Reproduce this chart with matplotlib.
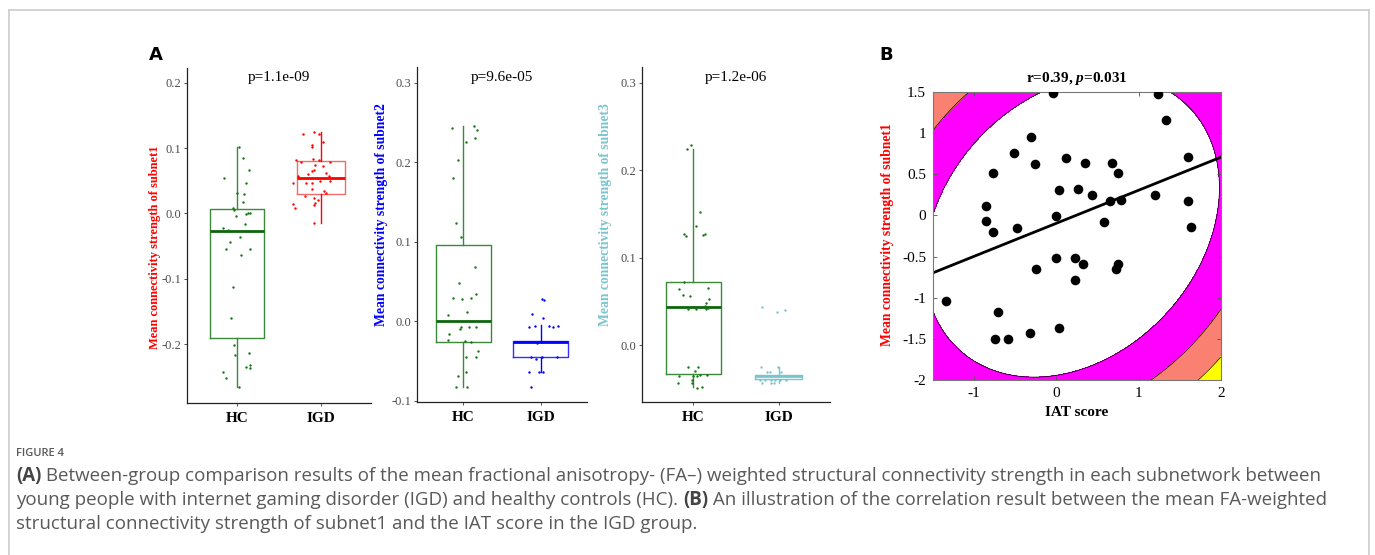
import numpy as np
import matplotlib
matplotlib.use("Agg")
import matplotlib.pyplot as plt
from matplotlib.lines import Line2D

# ---------------- data ----------------
groups = ["HC", "IGD"]

# subnet1 (jitter offset, value)
s1_hc_off = [0.027, 0.070, 0.144, -0.163, 0.105, -0.008, 0.082, 0.070, -0.051, -0.043, -0.016, 0.148, 0.109,
             0.132, -0.175, -0.113, 0.093, -0.082, 0.039, -0.132, 0.152, 0.047, -0.051, -0.078, -0.035, -0.027,
             0.136, -0.175, -0.128, 0.109, 0.152, 0.152, 0.019]
s1_hc_val = [0.101, 0.085, 0.067, 0.054, 0.047, 0.031, 0.030, 0.017, 0.009, 0.005, -0.004, 0.0005, -0.0015,
             0.000, -0.022, -0.025, -0.016, -0.044, -0.036, -0.055, -0.055, -0.064, -0.112, -0.160, -0.202, -0.216,
             -0.213, -0.243, -0.252, -0.235, -0.232, -0.237, -0.266]
s1_igd_off = [-0.210, -0.086, -0.023, 0.023, -0.109, -0.101, -0.089, -0.300, -0.019, -0.237, 0.105, -0.070, 0.031,
              -0.078, -0.101, -0.148, 0.058, -0.268, 0.093, -0.331, -0.183, -0.101, -0.008, 0.109, -0.101, 0.043,
              0.062, -0.191, -0.086, -0.035, -0.331, -0.082, -0.066, -0.304, -0.086]
s1_igd_val = [0.121, 0.124, 0.122, 0.109, 0.104, 0.102, 0.083, 0.082, 0.082, 0.078, 0.078, 0.074, 0.073,
              0.067, 0.065, 0.061, 0.062, 0.057, 0.057, 0.046, 0.047, 0.047, 0.049, 0.050, 0.037, 0.034,
              0.032, 0.026, 0.024, 0.020, 0.014, 0.013, 0.016, 0.008, -0.014]

# subnet2
s2_hc_off = [-0.143, 0.139, 0.177, 0.147, 0.030, -0.065, -0.134, -0.095, -0.026, 0.156, -0.061, -0.134, -0.013,
             0.104, 0.169, 0.048, -0.199, -0.190, -0.048, -0.026, 0.074, 0.169, -0.199, 0.017, 0.100, 0.186,
             0.169, 0.039, 0.030, -0.074, -0.095, 0.052]
s2_hc_val = [0.2426, 0.246, 0.240, 0.231, 0.226, 0.203, 0.180, 0.124, 0.106, 0.0686, 0.048, 0.030, 0.028,
             0.029, 0.035, 0.012, 0.0075, -0.0155, -0.010, -0.007, -0.0067, -0.0067, -0.024, -0.025, -0.026, -0.037,
             -0.045, -0.0447, -0.0635, -0.0686, -0.083, -0.083]
s2_igd_off = [0.022, 0.039, -0.113, 0.030, -0.147, -0.078, 0.108, 0.165, 0.229, -0.048, 0.013, -0.130, -0.065,
              0.022, 0.208, -0.147, -0.026, 0.026, -0.121]
s2_igd_val = [0.0284, 0.0268, 0.0092, 0.0042, -0.0067, -0.0054, -0.0063, -0.0067, -0.0054, -0.0268, -0.026,
              -0.045, -0.047, -0.045, -0.045, -0.063, -0.064, -0.064, -0.083]

# subnet3
s3_hc_off = [-0.072, -0.023, 0.076, 0.034, -0.114, -0.080, 0.118, 0.141, -0.114, -0.163, 0.167, -0.122, -0.042,
             0.179, 0.152, 0.137, -0.061, 0.027, 0.148, 0.171, -0.061, 0.057, 0.023, -0.167, -0.008, 0.046,
             0.084, 0.163, -0.015, -0.175, -0.011, 0.049, 0.106]
s3_hc_val = [0.2237, 0.2287, 0.1527, 0.1363, 0.1272, 0.1249, 0.1256, 0.1272, 0.0726, 0.0638, 0.0649, 0.0573,
             0.0558, 0.0527, 0.0481, 0.0443, 0.0416, 0.0413, 0.0416, 0.0428, -0.0256, -0.0256, -0.0294, -0.0351,
             -0.0351, -0.0351, -0.0344, -0.0348, -0.0401, -0.0439, -0.0439, -0.0489, -0.0485]
s3_igd_off = [-0.194, -0.023, 0.072, -0.205, -0.137, -0.099, -0.004, 0.027, -0.221, -0.163, -0.087, -0.038,
              0.015, 0.084, -0.194, -0.087, -0.057]
s3_igd_val = [0.0435, 0.0378, 0.0397, -0.0256, -0.0309, -0.031, -0.0256, -0.031, -0.0401, -0.0401, -0.0401,
              -0.0401, -0.0401, -0.0401, -0.0439, -0.0439, -0.0439]

# box statistics: [whislo, q1, med, q3, whishi]
s1_hc_box = [-0.266, -0.191, -0.0265, 0.0071, 0.101]
s1_igd_box = [-0.014, 0.0295, 0.054, 0.080, 0.124]
s2_hc_box = [-0.083, -0.026, 0.0004, 0.0966, 0.2458]
s2_igd_box = [-0.064, -0.0447, -0.0265, -0.025, -0.005]
s3_hc_box = [-0.0485, -0.0332, 0.0439, 0.0718, 0.2242]
s3_igd_box = [-0.0439, -0.0393, -0.0355, -0.034, -0.0256]

p_labels = ["p=1.1e-09", "p=9.6e-05", "p=1.2e-06"]
ylabels_a = ["Mean connectivity strength of subnet1", "Mean connectivity strength of subnet2",
             "Mean connectivity strength of subnet3"]
yticks_a = [[-0.2, -0.1, 0.0, 0.1, 0.2], [-0.1, 0.0, 0.1, 0.2, 0.3], [0.0, 0.1, 0.2, 0.3]]

# panel B
iat_score = [-0.04, 1.24, 1.335, -0.31, -0.514, -0.255, 0.122, 0.35, 0.678, 1.60, -0.77, 0.743, 0.033,
             0.268, 0.427, 0.65, 0.784, 1.20, 1.603, -0.85, -0.007, -0.85, -0.766, -0.482, 0.577, 1.64,
             -0.011, 0.22, 0.317, -0.247, 0.751, 0.727, 0.22, -1.346, -0.709, -0.75, -0.583, -0.316, 0.037]
subnet1_strength = [1.49, 1.48, 1.156, 0.958, 0.76, 0.63, 0.70, 0.64, 0.64, 0.71, 0.52, 0.51, 0.31,
                    0.32, 0.254, 0.18, 0.19, 0.254, 0.18, 0.112, -0.005, -0.066, -0.207, -0.147, -0.078, -0.135,
                    -0.523, -0.523, -0.596, -0.657, -0.596, -0.657, -0.786, -1.045, -1.174, -1.50, -1.50, -1.433, -1.373]
# points read on the background contour boundaries (white/magenta, magenta/salmon, salmon/yellow)
contour1_x = [-0.2, 1.38, 1.97, -0.53, -1.5, -1.5, 1.785, 1.38]
contour1_y = [1.5, 1.5, 0.51, -1.90, -0.10, -1.29, -0.462, -1.19]
contour2_x = [1.015, 2.0, -1.184, -1.5]
contour2_y = [-2.0, -0.99, 1.5, 1.144]
contour3_x = [1.725, 2.0]
contour3_y = [-2.0, -1.717]
b_xticks = [-1, 0, 1, 2]
b_yticks = [-2, -1.5, -1, -0.5, 0, 0.5, 1, 1.5]
b_yticklabels = ["-2", "-1.5", "-1", "-0.5", "0", "0.5", "1", "1.5"]

# ---------------- figure ----------------
W, H = 1375, 555
fig = plt.figure(figsize=(W / 100, H / 100), dpi=100)
SERIF = "Liberation Serif"
plt.rcParams["mathtext.fontset"] = "custom"
plt.rcParams["mathtext.it"] = "Liberation Serif:italic:bold"
plt.rcParams["mathtext.rm"] = "Liberation Serif:bold"


def ax_px(l, t, r, b):
    return fig.add_axes([l / W, 1 - b / H, (r - l) / W, (b - t) / H])


def ftext(x, y, s, **kw):
    return fig.text(x / W, 1 - y / H, s, **kw)


GREEN_DOT = "#137513"
GREEN_BOX = "#3a8a3a"
GREEN_MED = "#0d650d"

panels = [
    dict(rect=(187, 68, 371, 403), ylim=(-0.29, 0.2225), data=[(s1_hc_off, s1_hc_val), (s1_igd_off, s1_igd_val)],
         boxes=[s1_hc_box, s1_igd_box], widths=[0.65, 0.57], col="#FF0000", boxcol="#F26A6A",
         lab_x=155, lab_y=247, lab_size=9.0, ptx=277),
    dict(rect=(417, 67, 587, 402), ylim=(-0.1013, 0.3197), data=[(s2_hc_off, s2_hc_val), (s2_igd_off, s2_igd_val)],
         boxes=[s2_hc_box, s2_igd_box], widths=[0.72, 0.71], col="#0000FF", boxcol="#3030FF",
         lab_x=381, lab_y=215, lab_size=9.8, ptx=507),
    dict(rect=(642, 67, 830, 402), ylim=(-0.0652, 0.318), data=[(s3_hc_off, s3_hc_val), (s3_igd_off, s3_igd_val)],
         boxes=[s3_hc_box, s3_igd_box], widths=[0.65, 0.55], col="#7AC5CD", boxcol="#7AC5CD",
         lab_x=606, lab_y=215, lab_size=9.8, ptx=733),
]

for i, p in enumerate(panels):
    l, t, r, b = p["rect"]
    ax = ax_px(l, t, r, b)
    ax.set_xlim(0.4, 2.6)
    ax.set_ylim(*p["ylim"])
    for sp in ["top", "right"]:
        ax.spines[sp].set_visible(False)
    for sp in ["left", "bottom"]:
        ax.spines[sp].set_linewidth(0.9)
        ax.spines[sp].set_color("#222222")
    stats = []
    for bx in p["boxes"]:
        stats.append(dict(whislo=bx[0], q1=bx[1], med=bx[2], q3=bx[3], whishi=bx[4], fliers=[]))
    for k in range(2):
        ec = GREEN_BOX if k == 0 else p["boxcol"]
        mc = GREEN_MED if k == 0 else p["col"]
        wc = GREEN_BOX if k == 0 else p["col"]
        ax.bxp([stats[k]], positions=[k + 1], widths=[p["widths"][k]], showcaps=False, showfliers=False,
               boxprops=dict(color=ec, linewidth=1.0),
               whiskerprops=dict(color=wc, linewidth=1.0),
               medianprops=dict(color=mc, linewidth=2.0), manage_ticks=False, zorder=2)
    for k, (off, val) in enumerate(p["data"]):
        c = GREEN_DOT if k == 0 else p["col"]
        ax.scatter(np.array(off) + k + 1, val, s=3.0, color=c, linewidths=0, zorder=3)
    ax.set_xticks([1, 2])
    ax.set_xticklabels(groups, fontfamily=SERIF, fontweight="bold", fontsize=11, color="black")
    ax.set_yticks(yticks_a[i])
    ax.set_yticklabels([f"{v:.1f}" for v in yticks_a[i]], fontfamily=SERIF, fontsize=9, color="#4D4D4D")
    ax.tick_params(axis="both", direction="out", length=2.5, width=0.6, color="#333333")
    ax.tick_params(axis="y", pad=1.5)
    ax.tick_params(axis="x", pad=4)
    ax.text(0.5, (b - 77) / (b - t), p_labels[i], transform=ax.transAxes, ha="center", va="center",
            fontfamily=SERIF, fontsize=11, color="black")
    ftext(p["lab_x"], p["lab_y"], ylabels_a[i], rotation=90, ha="center", va="center",
          fontfamily=SERIF, fontweight="bold", fontsize=p["lab_size"], color=p["col"])

# ---------------- panel B ----------------
axb = ax_px(933, 92, 1221, 380)


def quad_terms(x, y):
    x = np.asarray(x, float)
    y = np.asarray(y, float)
    return np.stack([x * x, x * y, y * y, x, y], axis=-1)


coef, *_ = np.linalg.lstsq(quad_terms(contour1_x, contour1_y), np.ones(len(contour1_x)), rcond=None)
lev1 = 1.0
lev2 = float(np.mean(quad_terms(contour2_x, contour2_y) @ coef))
lev3 = float(np.mean(quad_terms(contour3_x, contour3_y) @ coef))

gx = np.linspace(-1.5, 2.0, 600)
gy = np.linspace(-2.0, 1.5, 600)
GX, GY = np.meshgrid(gx, gy)
Q = quad_terms(GX, GY) @ coef
qmin = min(Q.min(), 0.0) - 1
axb.contourf(GX, GY, Q, levels=[qmin, lev1, lev2, lev3, Q.max() + 1],
             colors=["white", "#FF00FF", "#FA8072", "#FFFF00"], zorder=0)
axb.contour(GX, GY, Q, levels=[lev1, lev2, lev3], colors="black", linewidths=0.5, zorder=1)
axb.scatter(iat_score, subnet1_strength, s=48, color="black", linewidths=0, zorder=3)
slope, intercept = np.polyfit(iat_score, subnet1_strength, 1)
xl = np.array([-1.5, 2.0])
axb.plot(xl, slope * xl + intercept, color="black", linewidth=2.0, zorder=2)
axb.set_xlim(-1.5, 2.0)
axb.set_ylim(-2.0, 1.5)
axb.set_xticks(b_xticks)
axb.set_xticklabels([str(v) for v in b_xticks], fontfamily=SERIF, fontsize=11)
axb.set_yticks(b_yticks)
axb.set_yticklabels(b_yticklabels, fontfamily=SERIF, fontsize=11)
axb.tick_params(direction="in", length=3, width=0.6, color="#555555", top=True, right=True, pad=5)
for sp in axb.spines.values():
    sp.set_color("#777777")
    sp.set_linewidth(0.8)
axb.set_title("r=0.39, $p$=0.031", fontfamily=SERIF, fontweight="bold", fontsize=11, pad=7)
axb.set_xlabel("IAT score", fontfamily=SERIF, fontweight="bold", fontsize=11, labelpad=4)
ftext(888, 235, "Mean connectivity strength of subnet1", rotation=90, ha="center", va="center",
      fontfamily=SERIF, fontweight="bold", fontsize=9.8, color="#FF0000")

# panel letters
ftext(156, 55, "A", fontfamily="DejaVu Sans", fontweight="bold", fontsize=13, ha="center", va="center")
ftext(886, 55, "B", fontfamily="DejaVu Sans", fontweight="bold", fontsize=13, ha="center", va="center")

# ---------------- caption ----------------
CAP = "Open Sans"
CAPC = "#595959"
CS = 13.5
ftext(16, 454, "FIGURE 4", fontfamily=CAP, fontweight="semibold", fontsize=8, color=CAPC, va="center")

renderer = fig.canvas.get_renderer()


def seg_line(x0, y, parts):
    x = x0
    for s, bold in parts:
        t = ftext(x, y, s, fontfamily=CAP, fontweight="bold" if bold else "normal", fontsize=CS,
                  color="#444444" if bold else CAPC, va="center")
        bb = t.get_window_extent(renderer=renderer)
        x += bb.width


seg_line(16, 476, [("(A)", True), (" Between-group comparison results of the mean fractional anisotropy- (FA\u2013) "
                                   "weighted structural connectivity strength in each subnetwork between", False)])
seg_line(16, 500, [("young people with internet gaming disorder (IGD) and healthy controls (HC). ", False),
                   ("(B)", True), (" An illustration of the correlation result between the mean FA-weighted", False)])
seg_line(16, 524, [("structural connectivity strength of subnet1 and the IAT score in the IGD group.", False)])

# frame
fc = "#cccccc"
fig.add_artist(Line2D([8.5 / W, 8.5 / W], [0, 1 - 10 / H], transform=fig.transFigure, color=fc, lw=1.2))
fig.add_artist(Line2D([8.5 / W, 1369 / W], [1 - 10 / H, 1 - 10 / H], transform=fig.transFigure, color=fc, lw=1.2))
fig.add_artist(Line2D([1369 / W, 1369 / W], [0, 1 - 10 / H], transform=fig.transFigure, color=fc, lw=1.2))

fig.savefig("out.png", dpi=100)
